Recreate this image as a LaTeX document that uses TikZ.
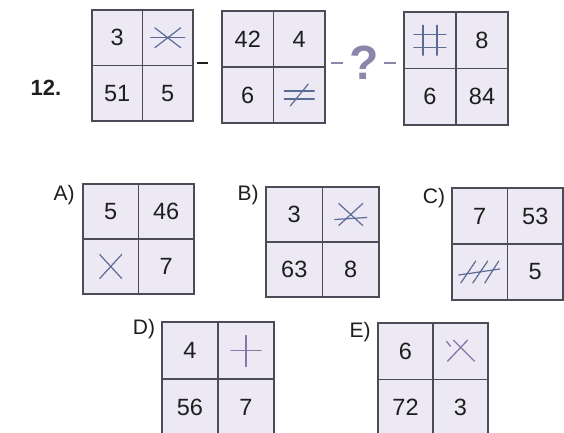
\documentclass[tikz,border=0pt]{standalone}
\usepackage{fontspec}
\setmainfont{Liberation Sans}
\usetikzlibrary{calc}
\definecolor{cellfill}{HTML}{ECE8F4}
\definecolor{boxcol}{HTML}{4C4C58}
\definecolor{symblue}{HTML}{5B6C94}
\definecolor{sympurple}{HTML}{8478A8}
\definecolor{qcol}{HTML}{8C86AA}
\definecolor{txt}{HTML}{1E1E1E}
\tikzset{
  boxline/.style={draw=boxcol, line width=1.3pt},
  celltext/.style={font=\fontsize{23.5}{23.5}\selectfont, text=txt, inner sep=0pt},
  labeltext/.style={font=\fontsize{21}{21}\selectfont, text=txt, inner sep=0pt},
  symline/.style={draw=symblue, line width=1.2pt, line cap=round},
  symlinep/.style={draw=sympurple, line width=1.3pt, line cap=round},
  dashline/.style={line width=1.4pt}
}
\newcommand\qbox[9]{%
  \draw[boxline, fill=cellfill] (#2,#3) rectangle (#4,#5);
  \coordinate (#1) at ($(#2,#3)!0.5!(#4,#5)$);
  \draw[boxline] ($(#2,#3)!0.5!(#4,#3)$) -- ($(#2,#5)!0.5!(#4,#5)$);
  \draw[boxline] ($(#2,#3)!0.5!(#2,#5)$) -- ($(#4,#3)!0.5!(#4,#5)$);
  \node[celltext] (#1-tl) at ($(#2,#3)!0.5!(#1)$) {#6};
  \node[celltext] (#1-tr) at ($(#4,#3)!0.5!(#1)$) {#7};
  \node[celltext] (#1-bl) at ($(#2,#5)!0.5!(#1)$) {#8};
  \node[celltext] (#1-br) at ($(#4,#5)!0.5!(#1)$) {#9};
}
\begin{document}
\begin{tikzpicture}[x=1pt,y=-1pt]
\useasboundingbox (0,0) rectangle (564,432);
\fill[white] (0,0) rectangle (564,432);

\node[font=\bfseries\fontsize{22}{22}\selectfont, text=txt, inner sep=0pt] (num) at (46,88) {12.};

% question row
\qbox{q1}{92}{10}{193}{121}{3}{}{51}{5}
\qbox{q2}{222}{11}{325}{123}{42}{4}{6}{}
\qbox{q3}{404}{12}{508}{125}{}{8}{6}{84}

% symbols in question row
\draw[symline] ([shift={(-17,0)}]q1-tr.center) -- ([shift={(17,0)}]q1-tr.center);
\draw[symline] ([shift={(-13,-10)}]q1-tr.center) -- ([shift={(13,10)}]q1-tr.center);
\draw[symline] ([shift={(-13,10)}]q1-tr.center) -- ([shift={(13,-10)}]q1-tr.center);

\draw[symline] ([shift={(-15,-4)}]q2-br.center) -- ([shift={(15,-4)}]q2-br.center);
\draw[symline] ([shift={(-15,4)}]q2-br.center) -- ([shift={(15,4)}]q2-br.center);
\draw[symline] ([shift={(-9,11)}]q2-br.center) -- ([shift={(9,-11)}]q2-br.center);

\draw[symline] ([shift={(-7,-15)}]q3-tl.center) -- ([shift={(-7,15)}]q3-tl.center);
\draw[symline] ([shift={(7,-15)}]q3-tl.center) -- ([shift={(7,15)}]q3-tl.center);
\draw[symline] ([shift={(-16,-6)}]q3-tl.center) -- ([shift={(16,-6)}]q3-tl.center);
\draw[symline] ([shift={(-16,7)}]q3-tl.center) -- ([shift={(16,7)}]q3-tl.center);

% dashes and question mark
\coordinate (d1a) at (197,63); \coordinate (d1b) at (208,63);
\draw[dashline, txt] (d1a) -- (d1b);
\coordinate (d2a) at (331,63); \coordinate (d2b) at (343,63);
\draw[dashline, qcol] (d2a) -- (d2b);
\node[font=\bfseries\fontsize{48}{48}\selectfont, text=qcol, inner sep=0pt] (qm) at (364,63) {?};
\coordinate (d3a) at (384,63); \coordinate (d3b) at (396,63);
\draw[dashline, qcol] (d3a) -- (d3b);

% answers
\node[labeltext] (la) at (64,195) {A)};
\qbox{A}{83}{184}{194}{294}{5}{46}{}{7}
\draw[symline] ([shift={(-11,-12)}]A-bl.center) -- ([shift={(11,12)}]A-bl.center);
\draw[symline] ([shift={(-11,12)}]A-bl.center) -- ([shift={(11,-12)}]A-bl.center);

\node[labeltext] (lb) at (248,195) {B)};
\qbox{B}{266}{187}{379}{297}{3}{}{63}{8}
\draw[symline] ([shift={(-12,-11)}]B-tr.center) -- ([shift={(12,11)}]B-tr.center);
\draw[symline] ([shift={(-12,11)}]B-tr.center) -- ([shift={(12,-11)}]B-tr.center);
\draw[symline] ([shift={(-16,5)}]B-tr.center) -- ([shift={(16,3)}]B-tr.center);

\node[labeltext] (lc) at (434,198) {C)};
\qbox{C}{452}{188}{563}{300}{7}{53}{}{5}
\draw[symline] ([shift={(-21,3)}]C-bl.center) -- ([shift={(20,-3)}]C-bl.center);
\draw[symline] ([shift={(-19,11)}]C-bl.center) -- ([shift={(-4,-11)}]C-bl.center);
\draw[symline] ([shift={(-7,11)}]C-bl.center) -- ([shift={(8,-11)}]C-bl.center);
\draw[symline] ([shift={(5,11)}]C-bl.center) -- ([shift={(19,-11)}]C-bl.center);

\node[labeltext] (ld) at (144,329) {D)};
\qbox{D}{162}{322}{274}{436}{4}{}{56}{7}
\draw[symlinep] ([shift={(-15,0)}]D-tr.center) -- ([shift={(15,0)}]D-tr.center);
\draw[symlinep] ([shift={(0,-15)}]D-tr.center) -- ([shift={(0,16)}]D-tr.center);

\node[labeltext] (le) at (360,332) {E)};
\qbox{E}{378}{323}{488}{436}{6}{}{72}{3}
\draw[symlinep] ([shift={(-13,10)}]E-tr.center) -- ([shift={(7,-11)}]E-tr.center);
\draw[symlinep] ([shift={(-7,-11)}]E-tr.center) -- ([shift={(14,10)}]E-tr.center);
\draw[symlinep] ([shift={(-14,-10)}]E-tr.center) -- ([shift={(-10,-5)}]E-tr.center);
\end{tikzpicture}
\end{document}
